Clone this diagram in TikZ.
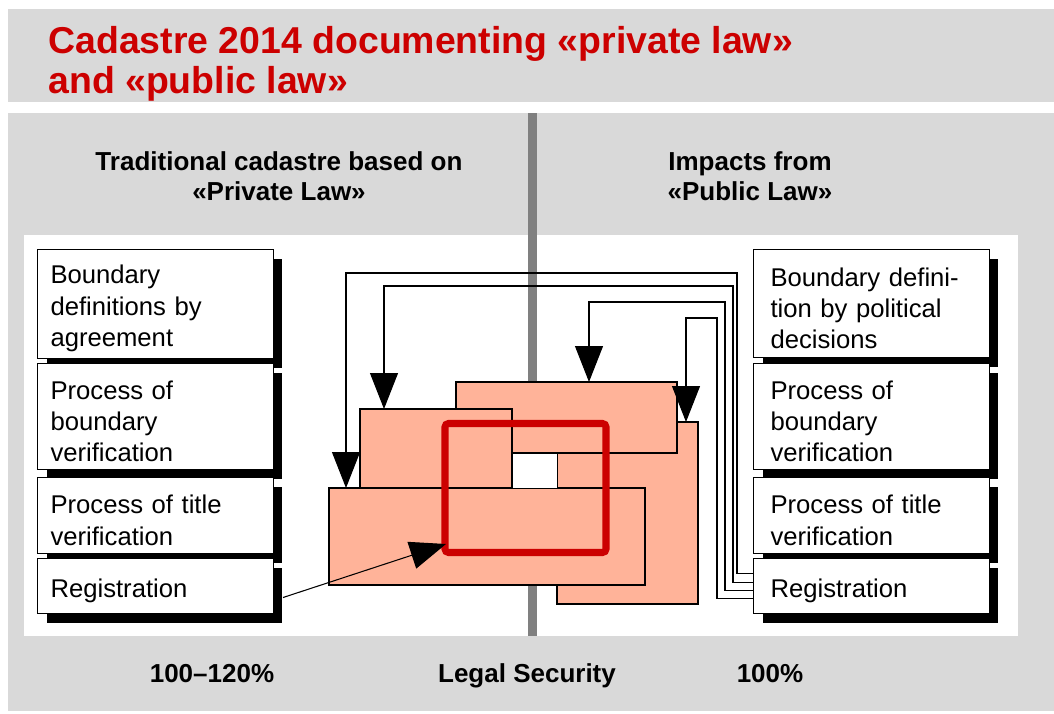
\documentclass[tikz,border=0pt]{standalone}
\usepackage{fontspec}
\setmainfont{Liberation Sans}
\usetikzlibrary{calc,arrows.meta,shadows}
\definecolor{panelgray}{RGB}{217,217,217}
\definecolor{divgray}{RGB}{128,128,128}
\definecolor{salmon}{RGB}{255,179,153}
\definecolor{cadred}{RGB}{204,0,0}
\tikzset{
  taskbox/.style={draw=black, line width=0.6pt, fill=white, anchor=north west,
    text width=4.2cm, inner xsep=0.26cm, inner ysep=0pt, align=left,
    font=\fontsize{14.6}{17.9}\selectfont,
    execute at begin node={\rule{0pt}{16pt}},
    drop shadow={shadow xshift=0.18cm, shadow yshift=-0.18cm, opacity=1, fill=black}
  },
  rightbox/.style={taskbox, text width=4.04cm, inner xsep=0.34cm},
  pane/.style={draw=black, line width=0.6pt, fill=salmon},
  link/.style={line width=0.6pt, -{Triangle[length=0.72cm,width=0.56cm]}},
  heading/.style={inner sep=0pt, align=center,
    font=\fontsize{14.8}{17}\selectfont\bfseries}
}

\begin{document}
\begin{tikzpicture}[x=0.02cm,y=-0.02cm]
  \useasboundingbox (0,0) rectangle (1054,713);

  % grey panels
  \fill[panelgray] (8,9) rectangle (1054,102);
  \fill[panelgray] (8,113) rectangle (1054,711);
  \fill[white] (24,235) rectangle (1018,636);
  \fill[divgray] (528,113) rectangle (537,636);

  \node[anchor=north west, inner sep=0pt, align=left, text=cadred,
    font=\fontsize{21.3}{22.6}\selectfont\bfseries] (title) at (48,26)
    {Cadastre 2014 documenting «private law»\\and «public law»};

  \node[heading, anchor=north] (privH) at (279,151) {Traditional cadastre based on\\«Private Law»};
  \node[heading, anchor=north] (publH) at (750,151) {Impacts from\\«Public Law»};

  % overlapping panes
  \draw[pane] (557,422) rectangle (698,604);
  \draw[pane] (456,382) rectangle (677,453);
  \draw[pane] (360,409) rectangle (512,488);
  \draw[pane] (329,488) rectangle (645,585);
  \fill[white] (512.5,453.5) rectangle (556.5,487.5);
  \draw[cadred, line width=4pt, rounded corners=2pt] (445,423.5) rectangle (606,552.5);

  \coordinate (tipD) at (346,488);
  \coordinate (tipC) at (384,409);
  \coordinate (tipA) at (589,382);
  \coordinate (tipB) at (686,422);
  \coordinate (tipR) at (446,544);

  % left column
  \node[taskbox, minimum height=2.18cm] (defL) at (37,249) {Boundary\\definitions by\\agreement};
  \node[taskbox, minimum height=2.12cm] (bndL) at (37,363) {Process of\\boundary\\verification};
  \node[taskbox, minimum height=1.52cm] (titL) at (37,477) {Process of title\\verification};
  \node[taskbox, minimum height=1.10cm] (regL) at (37,558) {Registration};

  % right column
  \node[rightbox, minimum height=2.16cm] (defR) at (753,249) {Boundary defini-\\tion by political\\decisions};
  \node[rightbox, minimum height=2.12cm] (bndR) at (753,363) {Process of\\boundary\\verification};
  \node[rightbox, minimum height=1.52cm] (titR) at (753,477) {Process of title\\verification};
  \node[rightbox, minimum height=1.10cm] (regR) at (753,558) {Registration};

  \draw[link] ($(regR.west)+(0,-12.5)$) -| (737,273) -| (tipD);
  \draw[link] ($(regR.west)+(0,-3.5)$) -| (733,286) -| (tipC);
  \draw[link] ($(regR.west)+(0,4.5)$) -| (725,302) -| (tipA);
  \draw[link] ($(regR.west)+(0,12.5)$) -| (717,318) -| (tipB);
  \draw[link] ($(regL.east)+(9,11.5)$) -- (tipR);

  \node[heading, anchor=base] (lowL) at (212,682) {100–120\%};
  \node[heading, anchor=base] (lowM) at (527,682) {Legal Security};
  \node[heading, anchor=base] (lowR) at (770,682) {100\%};
\end{tikzpicture}
\end{document}
